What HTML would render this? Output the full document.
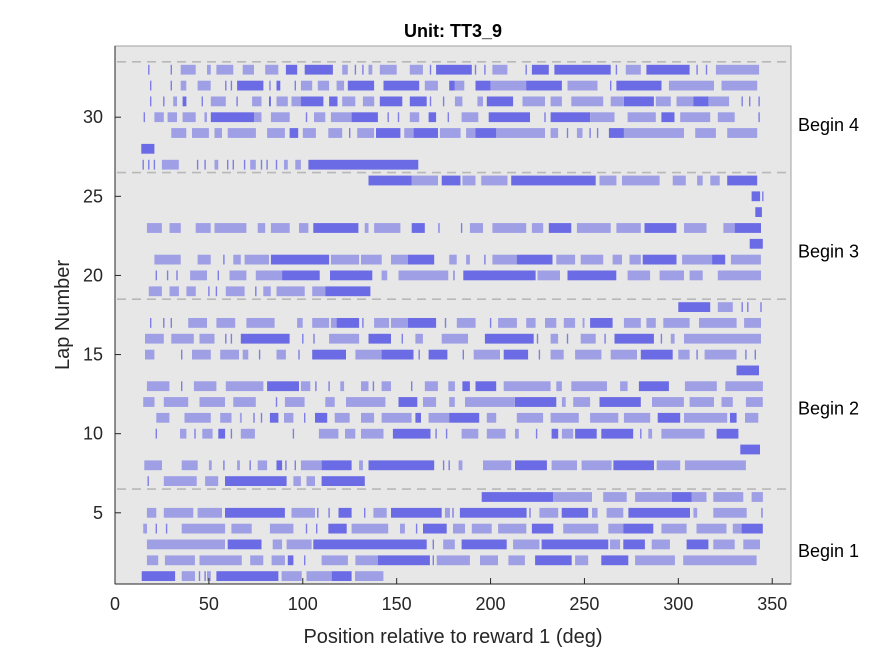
<!DOCTYPE html>
<html><head><meta charset="utf-8"><style>
html,body{margin:0;padding:0;background:#fff;}
svg{display:block;font-family:"Liberation Sans",Arial,sans-serif;}
</style></head><body>
<svg id="chart" width="875" height="656" viewBox="0 0 875 656"></svg>
<script>
const xTicks=[0,50,100,150,200,250,300,350];
const yTicks=[5,10,15,20,25,30];
const boundaries=[6.5,18.5,26.5,33.5];
const beginLabels=["Begin 1","Begin 2","Begin 3","Begin 4"];
const beginLaps=[2.6,11.6,21.5,29.5];
// spike runs per lap (lap 1..33): [startDeg,endDeg,kind] D=dense, M=medium, T=single tick
const lapRuns=[
[[14.2,32,'D'],[35.5,42.6,'M'],[45,45,'T'],[48,48,'T'],[49,51,'M'],[54,87,'D'],[88.7,99.4,'M'],[102,115.4,'M'],[115.4,126,'D'],[127.8,142.9,'M']],
[[17,23,'M'],[26.6,42.6,'M'],[45,67.5,'M'],[72,79,'M'],[83.4,90.5,'M'],[92,95,'D'],[101,101,'T'],[110,124,'M'],[128,140,'M'],[140,167.7,'D'],[169.5,169.5,'T'],[171.3,189,'M'],[194.4,204,'M'],[209.5,218.3,'M'],[223.7,243.2,'D'],[245,252,'M'],[259,273.4,'D'],[277,298.2,'M'],[302.6,341.7,'M']],
[[17,58.6,'M'],[60,78,'D'],[84,89,'M'],[91.4,104.7,'M'],[105.6,166,'D'],[169.5,169.5,'T'],[174.8,181,'M'],[184.6,208.6,'D'],[212,226,'M'],[227.2,262.7,'D'],[263.6,269,'M'],[270.7,282.2,'D'],[285.8,295.5,'M'],[304.4,316,'D'],[318.6,330,'M'],[334.6,343.5,'M']],
[[15,17,'M'],[22,22,'T'],[27.5,27.5,'T'],[35.5,58.6,'M'],[62,72.8,'M'],[82.5,95,'M'],[102,102,'T'],[107.4,107.4,'T'],[113.6,123.4,'D'],[126,145.5,'M'],[151.8,154.4,'M'],[160.6,160.6,'T'],[164,176.6,'D'],[180,186.4,'M'],[190,200.6,'M'],[204,219,'M'],[222,233.4,'D'],[238.7,257.4,'M'],[262.7,270.7,'M'],[270.7,286.7,'D'],[291,304.4,'M'],[309.7,325.7,'M'],[329,333.7,'M'],[333.7,345,'D']],
[[17,22,'M'],[26,41.7,'M'],[44,57,'M'],[58.6,90.5,'D'],[94,106.5,'M'],[108,108,'T'],[114,114,'T'],[119,126,'D'],[133,133,'T'],[137.6,144.7,'M'],[147,174,'D'],[175.7,178.4,'M'],[180,180,'T'],[183.7,219.2,'D'],[221,221,'T'],[226,236,'M'],[237.9,252,'D'],[254,257,'M'],[261.8,270.7,'M'],[273.4,306.2,'D'],[308,310,'M'],[318.6,336.4,'M'],[344,345,'M']],
[[195.3,233.4,'D'],[233.4,254,'M'],[260,272.5,'M'],[277,296.5,'M'],[296.5,307,'D'],[307,315,'M'],[318.6,334.6,'M'],[339,345,'M']],
[[17.7,17.7,'T'],[26,43.5,'M'],[48,55,'M'],[58.6,91.4,'D'],[95,99,'M'],[102,106.5,'M'],[110,133,'D']],
[[15.6,25,'M'],[35.5,44,'M'],[50,51.5,'M'],[58,58,'T'],[65,66.5,'M'],[72,72,'T'],[76,81,'M'],[86,89,'D'],[91,91,'T'],[96,96,'T'],[99,110,'M'],[110,126,'D'],[130,132,'M'],[135,170,'D'],[175,175,'T'],[178,178,'T'],[183,185,'M'],[196,211,'M'],[213,230,'D'],[232.5,246,'M'],[248.5,264.5,'M'],[265.4,287,'D'],[288.5,301,'M'],[303.5,336,'M']],
[[333,343.5,'D']],
[[22,22,'T'],[34.6,38,'M'],[42.6,42.6,'T'],[46.5,52,'M'],[55,58.6,'D'],[62,62,'T'],[67,74.5,'M'],[95,95,'T'],[108.6,119,'M'],[122.5,128,'M'],[131,143,'M'],[148,168,'D'],[171,171,'T'],[176.6,176.6,'T'],[184.6,193.5,'M'],[198,208,'M'],[213,215,'M'],[224.5,224.5,'T'],[232.5,236,'D'],[238,244,'M'],[245,256.5,'D'],[259,276,'D'],[280,280,'T'],[284,286,'M'],[291,314,'M'],[320.4,332,'D']],
[[22,29,'M'],[37,51,'M'],[56,62,'M'],[66.5,67.5,'M'],[74,74,'T'],[78,78,'T'],[82.5,87,'D'],[90,95,'M'],[101,101,'T'],[106.5,113,'D'],[117,125,'M'],[131,138,'M'],[142,158,'M'],[160,163,'D'],[167,178,'M'],[178,194,'D'],[198,203,'M'],[214,228,'M'],[232,247,'M'],[253,268,'M'],[271,285,'M'],[289,301,'D'],[303,326,'M'],[327.5,331,'D'],[335.5,342.6,'M']],
[[15,21,'M'],[26,39,'M'],[45,58.6,'M'],[63,75,'M'],[86,86,'T'],[90.5,101,'M'],[112,117,'M'],[123,144,'M'],[151,161,'D'],[164,171,'M'],[178,181,'M'],[186.4,213,'M'],[213,235,'D'],[238,240,'M'],[244,253,'M'],[258,280,'D'],[286,303,'M'],[306,319,'M'],[323,329,'M'],[336,345,'M']],
[[17,29,'M'],[35.5,35.5,'T'],[42,54,'M'],[59,79,'M'],[81,98,'D'],[99,104,'M'],[107,107,'T'],[114,114,'T'],[120,122,'M'],[131,135,'M'],[137.6,137.6,'T'],[142,147,'M'],[158,158,'T'],[165,172,'M'],[177.5,181,'M'],[185,189,'D'],[192,203,'D'],[207,232,'M'],[235,238,'M'],[243,262,'M'],[269,273,'M'],[279,295,'D'],[303.5,320.5,'M'],[325,345,'M']],
[[331,343,'D']],
[[16,21,'M'],[35.5,35.5,'T'],[41,51,'M'],[56,66,'M'],[68,71,'M'],[77,77,'T'],[86,91,'M'],[98,98,'T'],[105,123,'D'],[128,142,'M'],[142,159,'D'],[162,162,'T'],[167,177,'D'],[185.5,185.5,'T'],[191,205,'M'],[207,220,'D'],[226,226,'T'],[232,239,'M'],[245,259,'M'],[264,278,'M'],[280,297,'D'],[300,306,'M'],[310,310,'T'],[314,331,'M'],[336,336,'T'],[341,341,'T']],
[[16,26,'M'],[30,42,'M'],[45,53,'M'],[59,59,'T'],[62,62,'T'],[67,93,'D'],[100,100,'T'],[106,106,'T'],[114,130,'M'],[135,147,'D'],[153,153,'T'],[160,164,'M'],[174,188,'M'],[197,223,'D'],[225,225,'T'],[232,236,'M'],[241,241,'T'],[248,256,'M'],[261,261,'T'],[266,287,'D'],[291,291,'T'],[296,298,'M'],[303,344,'M']],
[[19,19,'T'],[26,26,'T'],[30,30,'T'],[39,49,'M'],[54,64,'M'],[70,85,'M'],[97,100,'M'],[105,114,'M'],[115,118,'M'],[118,130,'D'],[132,132,'T'],[138,146,'M'],[147,156,'M'],[156,171,'D'],[176,176,'T'],[182,192,'M'],[200,200,'T'],[204,214,'M'],[219,224,'M'],[229,235,'M'],[239,245,'M'],[249,250,'M'],[253,265,'D'],[271,280,'M'],[283,288,'M'],[292,306,'M'],[311,331,'M'],[335,344,'M']],
[[300,317,'D'],[321,329,'M'],[334,334,'T'],[337,337,'T'],[344,344,'T']],
[[18,25,'M'],[29,34,'M'],[38,43,'M'],[50,50,'T'],[54,54,'T'],[59,69,'M'],[75,75,'T'],[79,83,'M'],[86,101,'M'],[105,112,'M'],[112,136,'D']],
[[22,22,'T'],[28,28,'T'],[33,33,'T'],[40,49,'M'],[55,55,'T'],[61,70,'M'],[75,89,'M'],[89,109,'D'],[114.5,137,'D'],[142,145,'M'],[151,177.5,'M'],[180,181,'M'],[185.5,224,'D'],[225,237,'M'],[241,267,'D'],[273,285,'M'],[290,303,'M'],[306,313,'M'],[321,344,'M']],
[[21,35,'M'],[44,51,'M'],[58,58,'T'],[63,67,'M'],[69,82,'M'],[83,114,'D'],[115,130,'M'],[131,142,'M'],[147,156,'M'],[156,170,'D'],[178,182,'M'],[187,189,'M'],[197,197,'T'],[201,214,'M'],[214,233,'D'],[235,245,'M'],[248,260,'M'],[265,270,'M'],[274,280,'M'],[281,299,'D'],[302,318,'M'],[318,325,'D'],[328,344,'M']],
[[338,345,'D']],
[[17,25,'M'],[29,35,'M'],[43,51,'M'],[53,70,'M'],[76,80,'M'],[83,93,'M'],[98,103,'M'],[105.6,129.6,'D'],[133,135,'M'],[138,152,'M'],[158,165,'D'],[172,173,'M'],[184.6,184.6,'T'],[189,196,'M'],[201,219,'M'],[222,228,'M'],[231,243,'D'],[246,264,'M'],[267,280,'M'],[282,299,'D'],[303,315,'M'],[324,330,'M'],[330,344,'D']],
[[341,344.5,'D']],
[[339,343.5,'D'],[345,345,'T']],
[[135,158,'D'],[158,172,'M'],[174,184,'D'],[185,192,'M'],[195,209,'M'],[211,256,'D'],[258,267,'M'],[270,290,'M'],[297,304,'M'],[310,313,'M'],[317,322,'M'],[326,342,'D']],
[[15,15,'T'],[18,18,'T'],[21,21,'T'],[25,34,'M'],[44,44,'T'],[48,48,'T'],[53,55,'M'],[60,60,'T'],[63,63,'T'],[69,69,'T'],[72,75,'M'],[78,78,'T'],[81,81,'T'],[86,86,'T'],[90,92,'M'],[96,99,'M'],[103,161.5,'D']],
[[14,21,'D']],
[[30,38,'M'],[41,50,'M'],[53,57,'M'],[60,75,'M'],[81,90.5,'M'],[93,97.6,'D'],[100,107,'M'],[113.6,121,'M'],[125,125,'T'],[129,138,'M'],[139,152,'D'],[154,159,'M'],[159,172,'D'],[173,184,'M'],[187,192,'M'],[192,203,'D'],[203,229,'M'],[232,236,'M'],[241,241,'T'],[246,249,'M'],[253,253,'T'],[257,257,'T'],[263,271,'D'],[271,303,'M'],[309,320,'M'],[326,342,'M']],
[[15.6,15.6,'T'],[21,26,'M'],[28,33,'M'],[36,43,'M'],[47.6,49,'M'],[51,74,'D'],[74,78,'M'],[83,93,'M'],[102,102,'T'],[106,112,'M'],[115,126,'M'],[126,140,'D'],[145.5,145.5,'T'],[151,151,'T'],[157,162,'M'],[167,171,'D'],[177.5,177.5,'T'],[184.6,193.5,'M'],[199,221,'D'],[229,229,'T'],[232,253,'D'],[253,266,'M'],[273,288,'M'],[291,298,'D'],[301,317,'M'],[321,330,'M'],[343,343,'T']],
[[19,19,'T'],[26,26,'T'],[31,33,'M'],[36,38,'D'],[46.5,46.5,'T'],[51,59,'M'],[65,65,'T'],[73,78,'M'],[82,83,'D'],[86,92,'M'],[94,99,'M'],[99,111,'D'],[114,118.5,'D'],[121,128,'M'],[132,138,'M'],[141,153,'D'],[157,166,'D'],[168,168,'T'],[175,175,'T'],[181,185,'M'],[193,196,'M'],[198,212,'D'],[217,229,'M'],[232,238,'M'],[243,260,'M'],[264,271,'M'],[271,287,'D'],[288,296,'M'],[299,308,'M'],[308,316,'D'],[316,327,'M'],[334,334,'T'],[338,338,'T'],[343,343,'T']],
[[19,19,'T'],[30,30,'T'],[35,38,'M'],[44,51,'M'],[59,59,'T'],[62,62,'T'],[65,79,'D'],[82,83,'M'],[86,88,'D'],[96,96,'T'],[99,105,'M'],[108,114,'M'],[118,122,'M'],[124,138,'D'],[143,162,'D'],[165,172,'M'],[178,181,'D'],[181,186,'M'],[192,200,'D'],[200,219,'M'],[219,238,'D'],[241,257,'M'],[264,264,'T'],[267,291,'D'],[295,319,'M'],[323,342,'M']],
[[18,18,'T'],[30,30,'T'],[35,43,'M'],[49,51,'M'],[54,63,'M'],[68,74,'M'],[80,87,'M'],[91,97,'D'],[101,116,'D'],[121,124,'M'],[128,128,'T'],[132,132,'T'],[135,137,'M'],[141,150,'M'],[157,164,'M'],[168,168,'T'],[171,190,'D'],[192,192,'T'],[197,197,'T'],[201,209,'M'],[219,219,'T'],[222,231,'D'],[234,264,'D'],[267,267,'T'],[272,280,'M'],[283,306,'D'],[310,310,'T'],[315,315,'T'],[320,343,'M']]
];
const lapNumbers=lapRuns.map((r,i)=>i+1);

const svg=document.getElementById('chart');
const NS='http://www.w3.org/2000/svg';
const L=115,R=791,T=46,B=584,XMIN=0,XMAX=360,YMIN=0.5,YMAX=34.5;
const xs=v=>L+(v-XMIN)/(XMAX-XMIN)*(R-L);
const ys=v=>B-(v-YMIN)/(YMAX-YMIN)*(B-T);
function mk(tag,attrs,parent){const e=document.createElementNS(NS,tag);for(const k in attrs)e.setAttribute(k,attrs[k]);(parent||svg).appendChild(e);return e;}

const bg=mk('rect',{x:L,y:T,width:R-L,height:B-T,fill:'#e7e7e7'});



const marks=mk('g',{});


const hh=(ys(0)-ys(1))*0.62;
lapRuns.forEach((runs,i)=>{
  const lap=lapNumbers[i];
  const g=mk('g',{},marks);
  
  
  const yc=ys(lap);
  runs.forEach(r=>{
    const x0=xs(r[0]),x1=xs(r[1]);
    let w=Math.max(x1-x0,1.4),op=r[2]==='D'?0.95:(r[2]==='M'?0.55:0.8);
    const rc=mk('rect',{x:(r[2]==='T'?x0-0.7:x0).toFixed(1),y:(yc-hh/2).toFixed(1),width:w.toFixed(1),height:hh.toFixed(1),fill:'#6464e6','fill-opacity':op},g);
    
    
  });
});

boundaries.forEach((b,i)=>{
  const ln=mk('line',{x1:L+2,x2:R-2,y1:ys(b),y2:ys(b),stroke:'#b8b8b8','stroke-width':1.6,'stroke-dasharray':'9,6'});
  
  
});

// axes box
const box=mk('rect',{x:L,y:T,width:R-L,height:B-T,fill:'none',stroke:'#a0a0a0','stroke-width':1});


const xa=mk('line',{x1:L,x2:R,y1:B,y2:B,stroke:'#262626','stroke-width':1});


const ya=mk('line',{x1:L,x2:L,y1:T,y2:B,stroke:'#262626','stroke-width':1});



xTicks.forEach(v=>{
  const tk=mk('line',{x1:xs(v),x2:xs(v),y1:B,y2:B-6,stroke:'#262626'});
  
  
  const t=mk('text',{x:xs(v),y:B+26,'text-anchor':'middle','font-size':18,fill:'#262626'});
  t.textContent=v;
  
  
});
yTicks.forEach(v=>{
  const tk=mk('line',{x1:L,x2:L+6,y1:ys(v),y2:ys(v),stroke:'#262626'});
  
  
  const t=mk('text',{x:L-12,y:ys(v)+6,'text-anchor':'end','font-size':18,fill:'#262626'});
  t.textContent=v;
  
  
});
beginLabels.forEach((s,i)=>{
  const t=mk('text',{x:798,y:ys(beginLaps[i])+6,'font-size':18,fill:'#000'});
  t.textContent=s;
  
  
});
const title=mk('text',{x:453,y:37,'text-anchor':'middle','font-size':18,'font-weight':'bold',fill:'#000'});
title.textContent='Unit: TT3_9';


const xl=mk('text',{x:453,y:643,'text-anchor':'middle','font-size':20,fill:'#262626'});
xl.textContent='Position relative to reward 1 (deg)';


const yl=mk('text',{x:0,y:0,'text-anchor':'middle','font-size':20,fill:'#262626',transform:'translate(69,315) rotate(-90)'});
yl.textContent='Lap Number';


</script>
</body></html>
